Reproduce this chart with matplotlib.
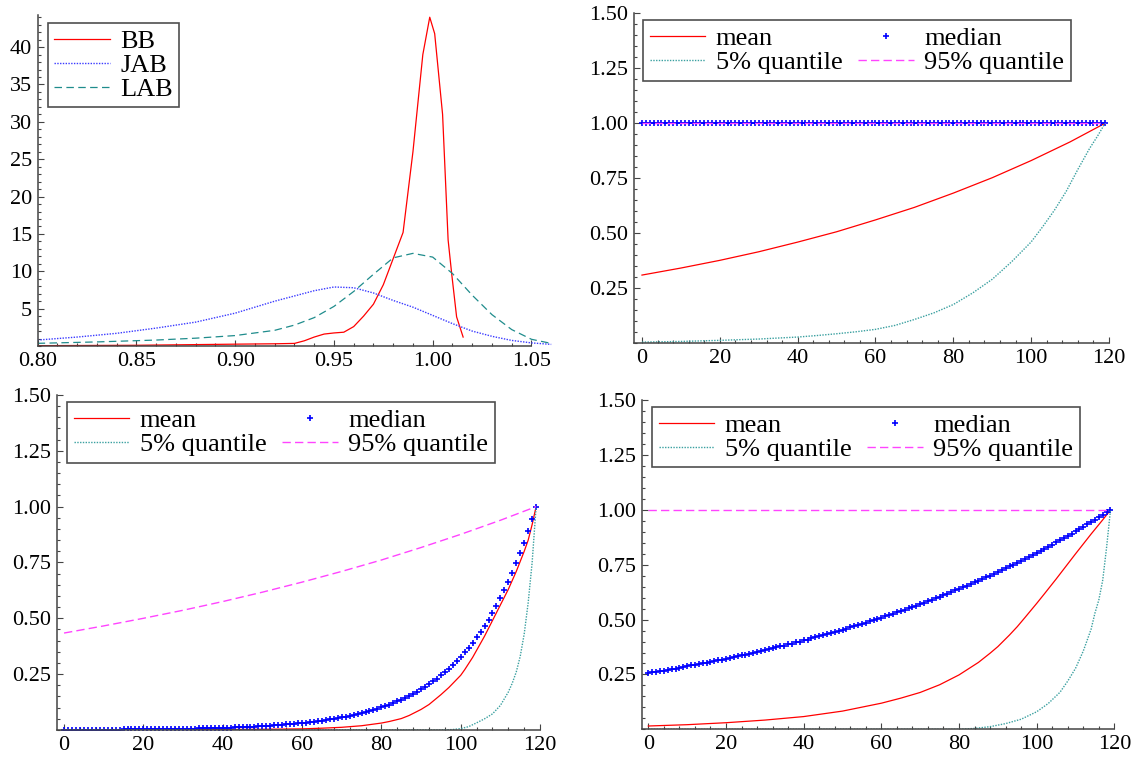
import numpy as np
import matplotlib.pyplot as plt
from matplotlib.ticker import FixedLocator, MultipleLocator, FormatStrFormatter

plt.rcParams['font.family'] = ['Liberation Serif', 'DejaVu Serif']

# density estimates
bb_x = [0.80, 0.85, 0.90, 0.92, 0.93, 0.935, 0.94, 0.945, 0.95, 0.955, 0.96, 0.965,
        0.97, 0.975, 0.98, 0.985, 0.99, 0.995, 0.9985, 1.001, 1.005, 1.0078, 1.0096,
        1.0121, 1.0154]
bb_y = [0.05, 0.1, 0.25, 0.3, 0.35, 0.7, 1.2, 1.6, 1.75, 1.85, 2.6, 4.0,
        5.6, 8.2, 11.7, 15.2, 26.0, 39.0, 44.0, 41.8, 31.0, 14.2, 9.7,
        3.9, 1.2]

jab_x = [0.80, 0.82, 0.84, 0.86, 0.88, 0.90, 0.92, 0.94, 0.95, 0.96, 0.97, 0.98,
         0.99, 1.00, 1.01, 1.02, 1.03, 1.04, 1.05, 1.06]
jab_y = [0.8, 1.2, 1.7, 2.4, 3.2, 4.4, 6.0, 7.4, 7.9, 7.8, 7.1, 6.1,
         5.2, 4.1, 3.0, 2.0, 1.3, 0.75, 0.42, 0.22]

lab_x = [0.80, 0.83, 0.86, 0.88, 0.90, 0.92, 0.93, 0.94, 0.95, 0.96, 0.97, 0.98,
         0.99, 1.00, 1.01, 1.02, 1.03, 1.04, 1.05, 1.06]
lab_y = [0.36, 0.55, 0.8, 1.05, 1.4, 2.1, 2.8, 3.8, 5.3, 7.3, 9.6, 11.8,
         12.4, 11.9, 9.7, 6.8, 4.2, 2.2, 0.9, 0.35]

steps = list(range(120))

# case a
mean_a_x = [0, 10, 20, 30, 40, 50, 60, 70, 80, 90, 100, 110, 119]
mean_a = [0.309, 0.341, 0.376, 0.415, 0.459, 0.506, 0.560, 0.617, 0.682, 0.752,
          0.830, 0.915, 1.0]
median_a = [1.0, 1.0, 1.0, 1.0, 1.0, 1.0, 1.0, 1.0, 1.0, 1.0, 1.0, 1.0, 1.0, 1.0, 1.0,
            1.0, 1.0, 1.0, 1.0, 1.0, 1.0, 1.0, 1.0, 1.0, 1.0, 1.0, 1.0, 1.0, 1.0, 1.0,
            1.0, 1.0, 1.0, 1.0, 1.0, 1.0, 1.0, 1.0, 1.0, 1.0, 1.0, 1.0, 1.0, 1.0, 1.0,
            1.0, 1.0, 1.0, 1.0, 1.0, 1.0, 1.0, 1.0, 1.0, 1.0, 1.0, 1.0, 1.0, 1.0, 1.0,
            1.0, 1.0, 1.0, 1.0, 1.0, 1.0, 1.0, 1.0, 1.0, 1.0, 1.0, 1.0, 1.0, 1.0, 1.0,
            1.0, 1.0, 1.0, 1.0, 1.0, 1.0, 1.0, 1.0, 1.0, 1.0, 1.0, 1.0, 1.0, 1.0, 1.0,
            1.0, 1.0, 1.0, 1.0, 1.0, 1.0, 1.0, 1.0, 1.0, 1.0, 1.0, 1.0, 1.0, 1.0, 1.0,
            1.0, 1.0, 1.0, 1.0, 1.0, 1.0, 1.0, 1.0, 1.0, 1.0, 1.0, 1.0, 1.0, 1.0, 1.0]
q05_a_x = [0, 10, 20, 30, 40, 45, 50, 55, 60, 65, 70, 75, 80, 85, 90, 95, 100, 103,
           106, 109, 112, 115, 117, 119]
q05_a = [0.004, 0.007, 0.012, 0.018, 0.027, 0.034, 0.042, 0.051, 0.062, 0.080, 0.107,
         0.137, 0.175, 0.228, 0.29, 0.37, 0.46, 0.53, 0.605, 0.69, 0.79, 0.885, 0.94, 1.0]
q95_a_x = [0, 119]
q95_a = [1.0, 1.0]

# case b
mean_b_x = [0, 10, 20, 30, 40, 50, 55, 60, 65, 70, 75, 80, 82, 85, 87, 90, 92, 95, 97,
            100, 101, 103, 106, 109, 112, 114, 116, 117, 118, 119]
mean_b = [0.0005, 0.0007, 0.001, 0.0015, 0.002, 0.003, 0.004, 0.005, 0.008, 0.012,
          0.019, 0.031, 0.038, 0.051, 0.065, 0.092, 0.114, 0.158, 0.19, 0.245, 0.27,
          0.325, 0.42, 0.525, 0.63, 0.71, 0.80, 0.85, 0.92, 1.0]
median_b = [0.0009, 0.0010, 0.0010, 0.0011, 0.0012, 0.0012, 0.0013, 0.0014, 0.0015, 0.0016,
            0.0017, 0.0018, 0.0019, 0.0020, 0.0021, 0.0022, 0.0024, 0.0025, 0.0027, 0.0028,
            0.0030, 0.0032, 0.0034, 0.0036, 0.0038, 0.0040, 0.0043, 0.0045, 0.0048, 0.0051,
            0.0054, 0.0057, 0.0060, 0.0064, 0.0068, 0.0072, 0.0076, 0.0081, 0.0086, 0.0091,
            0.0097, 0.0103, 0.0109, 0.0115, 0.0122, 0.0130, 0.0138, 0.0146, 0.0155, 0.0164,
            0.0174, 0.0185, 0.0196, 0.0208, 0.0220, 0.0234, 0.0248, 0.0263, 0.0279, 0.0295,
            0.0313, 0.0332, 0.0352, 0.0373, 0.0396, 0.0420, 0.0446, 0.0473, 0.0501, 0.0531,
            0.0564, 0.0598, 0.0634, 0.0672, 0.0713, 0.0756, 0.0802, 0.0850, 0.0902, 0.0955,
            0.1013, 0.1075, 0.1140, 0.1208, 0.1282, 0.1359, 0.1441, 0.1529, 0.1621, 0.1719,
            0.1823, 0.1933, 0.2050, 0.2174, 0.2305, 0.2445, 0.2593, 0.2749, 0.2916, 0.3092,
            0.3279, 0.3477, 0.3687, 0.3910, 0.4146, 0.4397, 0.4663, 0.4945, 0.5243, 0.5560,
            0.5896, 0.6253, 0.6631, 0.7032, 0.7457, 0.7907, 0.8385, 0.8892, 0.9430, 1.0]
q05_b_x = [0, 20, 40, 60, 80, 95, 98, 100, 102, 104, 106, 108, 110, 112, 113, 114, 115,
           116, 117, 118, 119]
q05_b = [0.0, 0.0, 0.0, 0.0, 0.0, 0.0, 0.002, 0.006, 0.015, 0.032, 0.05, 0.072, 0.11,
         0.17, 0.21, 0.26, 0.33, 0.43, 0.57, 0.75, 1.0]
q95_b_x = [0, 10, 20, 30, 40, 50, 60, 70, 80, 90, 100, 110, 119]
q95_b = [0.434, 0.466, 0.500, 0.536, 0.575, 0.617, 0.662, 0.710, 0.761, 0.817, 0.876,
         0.939, 1.0]

# case c
mean_c_x = [0, 10, 20, 30, 40, 50, 60, 65, 70, 75, 80, 85, 88, 90, 93, 95, 97, 100,
            102, 105, 107, 110, 112, 114, 117, 119]
mean_c = [0.015, 0.021, 0.030, 0.042, 0.058, 0.083, 0.119, 0.142, 0.168, 0.203, 0.248,
          0.305, 0.347, 0.377, 0.43, 0.468, 0.51, 0.574, 0.618, 0.685, 0.731, 0.80,
          0.845, 0.89, 0.955, 1.0]
median_c = [0.256, 0.259, 0.262, 0.265, 0.268, 0.271, 0.274, 0.277, 0.281, 0.284,
            0.287, 0.291, 0.294, 0.297, 0.301, 0.304, 0.308, 0.311, 0.315, 0.318,
            0.322, 0.326, 0.330, 0.333, 0.337, 0.341, 0.345, 0.349, 0.353, 0.357,
            0.361, 0.365, 0.369, 0.374, 0.378, 0.382, 0.387, 0.391, 0.396, 0.400,
            0.405, 0.409, 0.414, 0.419, 0.424, 0.429, 0.434, 0.439, 0.444, 0.449,
            0.454, 0.459, 0.465, 0.470, 0.475, 0.481, 0.486, 0.492, 0.498, 0.503,
            0.509, 0.515, 0.521, 0.527, 0.533, 0.539, 0.545, 0.552, 0.558, 0.564,
            0.571, 0.577, 0.584, 0.591, 0.598, 0.604, 0.611, 0.618, 0.626, 0.633,
            0.640, 0.647, 0.655, 0.662, 0.670, 0.678, 0.686, 0.693, 0.701, 0.709,
            0.718, 0.726, 0.734, 0.743, 0.751, 0.760, 0.769, 0.778, 0.787, 0.796,
            0.805, 0.814, 0.823, 0.833, 0.842, 0.852, 0.862, 0.872, 0.882, 0.892,
            0.902, 0.913, 0.923, 0.934, 0.944, 0.955, 0.966, 0.977, 0.989, 1.0]
q05_c_x = [0, 20, 40, 60, 80, 84, 88, 92, 96, 100, 103, 106, 108, 110, 112, 114, 115,
           116, 117, 118, 119]
q05_c = [0.0, 0.0, 0.0, 0.0, 0.0, 0.004, 0.012, 0.026, 0.046, 0.08, 0.118, 0.169, 0.22,
         0.278, 0.357, 0.456, 0.53, 0.59, 0.68, 0.83, 1.0]
q95_c_x = [0, 119]
q95_c = [1.0, 1.0]

RED = '#ff0000'
BLUE = '#3a3aff'
TEAL = '#1f8c8c'
TEAL_LIGHT = '#3aa0a0'
MAGENTA = '#ff44ff'
AXCOL = '#444444'

fig = plt.figure(figsize=(11.37, 7.6), dpi=100)


def style_axes(ax):
    for side in ('top', 'right'):
        ax.spines[side].set_visible(False)
    for side in ('left', 'bottom'):
        ax.spines[side].set_color(AXCOL)
        ax.spines[side].set_linewidth(1.1)
    ax.tick_params(which='both', direction='in', color=AXCOL, width=0.8,
                   labelsize=16, pad=4)
    ax.tick_params(which='major', length=4)
    ax.tick_params(which='minor', length=2.2)
    ax.patch.set_alpha(0)


def legend(ax, handles, labels, anchor, ncol):
    leg = ax.legend(handles, labels, loc='upper left', bbox_to_anchor=anchor,
                    bbox_transform=fig.transFigure, ncol=ncol, fontsize=19,
                    frameon=True, fancybox=False, borderaxespad=0,
                    handlelength=2.1, handletextpad=0.4, labelspacing=0.02,
                    borderpad=0.25, columnspacing=0.6, numpoints=1)
    leg.get_frame().set_edgecolor('#222222')
    leg.get_frame().set_linewidth(1.2)
    return leg


# densities
ax1 = fig.add_axes([0.0331, 0.5447, 0.4524, 0.4356])
l_bb, = ax1.plot(bb_x, bb_y, color=RED, lw=0.9)
l_jab, = ax1.plot(jab_x, jab_y, color=BLUE, lw=1.0, linestyle=(0, (1, 1)))
l_lab, = ax1.plot(lab_x, lab_y, color=TEAL, lw=0.9, linestyle=(0, (6, 3.5)))
ax1.set_xlim(0.80, 1.0604)
ax1.set_ylim(0, 44.3)
ax1.spines['bottom'].set_bounds(0.80, 1.05)
ax1.xaxis.set_major_locator(FixedLocator([0.80, 0.85, 0.90, 0.95, 1.00, 1.05]))
ax1.xaxis.set_major_formatter(FormatStrFormatter('%.2f'))
ax1.xaxis.set_minor_locator(FixedLocator(np.arange(0.80, 1.0501, 0.01)))
ax1.yaxis.set_major_locator(FixedLocator([5, 10, 15, 20, 25, 30, 35, 40]))
ax1.yaxis.set_minor_locator(MultipleLocator(1))
style_axes(ax1)
legend(ax1, [l_bb, l_jab, l_lab], ['BB', 'JAB', 'LAB'], (0.0418, 0.970), 1)

panels = [
    ([0.5576, 0.5487, 0.4178, 0.4338], -2.05,
     (mean_a_x, mean_a), median_a, (q05_a_x, q05_a), (q95_a_x, q95_a), (0.5655, 0.9737)),
    ([0.0498, 0.0395, 0.4252, 0.4408], -1.87,
     (mean_b_x, mean_b), median_b, (q05_b_x, q05_b), (q95_b_x, q95_b), (0.0589, 0.4707)),
    ([0.5644, 0.0404, 0.4157, 0.4329], -1.7,
     (mean_c_x, mean_c), median_c, (q05_c_x, q05_c), (q95_c_x, q95_c), (0.5734, 0.4649)),
]

for rect, xmin, mean, median, q05, q95, anchor in panels:
    ax = fig.add_axes(rect)
    h_mean, = ax.plot(mean[0], mean[1], color=RED, lw=0.9)
    h_med, = ax.plot(steps, median, linestyle='none', marker='+', color='#0000ff',
                     markersize=4, markeredgewidth=1.2)
    h_q05, = ax.plot(q05[0], q05[1], color=TEAL_LIGHT, lw=1.0, linestyle=(0, (1, 1)))
    h_q95, = ax.plot(q95[0], q95[1], color=MAGENTA, lw=1.0, linestyle=(0, (6, 3)))
    ax.set_xlim(xmin, 120)
    ax.set_ylim(0, 1.5)
    ax.xaxis.set_major_locator(FixedLocator([0, 20, 40, 60, 80, 100, 120]))
    ax.xaxis.set_minor_locator(MultipleLocator(4))
    ax.yaxis.set_major_locator(FixedLocator([0.25, 0.5, 0.75, 1.0, 1.25, 1.5]))
    ax.yaxis.set_major_formatter(FormatStrFormatter('%.2f'))
    ax.yaxis.set_minor_locator(MultipleLocator(0.05))
    style_axes(ax)
    legend(ax, [h_mean, h_q05, h_med, h_q95],
           ['mean', '5% quantile', 'median', '95% quantile'], anchor, 2)

fig.savefig('out.png', dpi=100)
